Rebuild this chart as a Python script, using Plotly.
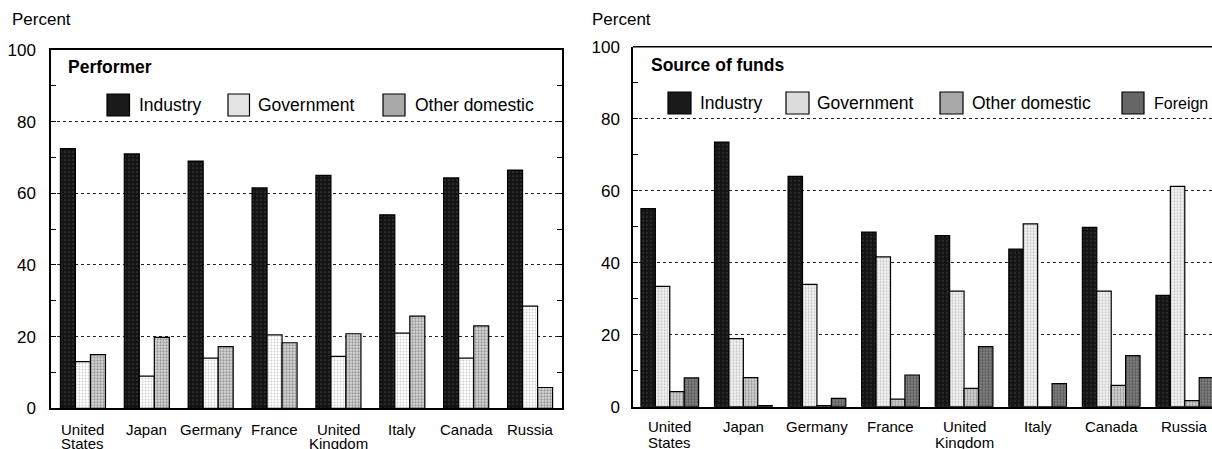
import plotly.graph_objects as go

# ---------------- data ----------------
countries = ["United States", "Japan", "Germany", "France", "United Kingdom", "Italy", "Canada", "Russia"]
tick_line1 = ["United", "Japan", "Germany", "France", "United", "Italy", "Canada", "Russia"]
tick_line2 = ["States", "", "", "", "Kingdom", "", "", ""]

perf_industry = [72.5, 71.0, 69.0, 61.5, 65.0, 54.0, 64.3, 66.5]
perf_government = [13.0, 9.0, 14.0, 20.5, 14.5, 21.0, 14.0, 28.5]
perf_other = [15.0, 19.8, 17.2, 18.3, 20.8, 25.7, 23.0, 5.8]

fund_industry = [55.0, 73.5, 64.0, 48.5, 47.5, 43.8, 49.8, 30.9]
fund_government = [33.4, 18.9, 34.0, 41.6, 32.1, 50.8, 32.1, 61.2]
fund_other = [4.2, 8.1, 0.3, 2.1, 5.1, 0.0, 5.9, 1.7]
fund_foreign = [8.0, 0.3, 2.3, 8.8, 16.7, 6.4, 14.2, 8.1]

y_ticks = [0, 20, 40, 60, 80, 100]

# ---------------- styling ----------------
W, H = 1212, 449
OFF = 0  # body margin removed by the post script below
FONT = "Liberation Sans, Arial, sans-serif"

def px(x):
    return (x - OFF) / W

def py(y):
    return 1 - (y - OFF) / H

styles = {
    "Industry": dict(bg="#141414", fg="#6e6e6e", size=4, sol=0.15, solid="#1a1a1a"),
    "Government": dict(bg="#ffffff", fg="#9a9a9a", size=3, sol=0.3, solid="#e4e4e4"),
    "Other domestic": dict(bg="#d8d8d8", fg="#555555", size=3, sol=0.45, solid="#a9a9a9"),
    "Foreign": dict(bg="#8a8a8a", fg="#222222", size=3, sol=0.5, solid="#666666"),
}
styles_right_gov = dict(bg="#f4f4f4", fg="#8a8a8a", size=3, sol=0.35, solid="#dcdcdc")

def marker_for(st):
    return dict(
        color=st["bg"],
        pattern=dict(shape=".", bgcolor=st["bg"], fgcolor=st["fg"], size=st["size"], solidity=st["sol"]),
        line=dict(color="black", width=1.2),
    )

x_idx = list(range(len(countries)))

fig = go.Figure()

# left panel: performer
wl = 0.235
left_series = [("Industry", perf_industry), ("Government", perf_government), ("Other domestic", perf_other)]
for i, (name, vals) in enumerate(left_series):
    fig.add_trace(go.Bar(
        x=x_idx, y=vals, name=name, width=wl, offset=(i - 1.5) * wl,
        marker=marker_for(styles[name]), xaxis="x", yaxis="y", showlegend=False,
        hovertext=countries,
    ))

# right panel: source of funds
wr = 0.196
right_series = [("Industry", fund_industry), ("Government", fund_government),
                ("Other domestic", fund_other), ("Foreign", fund_foreign)]
for i, (name, vals) in enumerate(right_series):
    st = styles_right_gov if name == "Government" else styles[name]
    fig.add_trace(go.Bar(
        x=x_idx, y=vals, name=name, width=wr, offset=(i - 2) * wr,
        marker=marker_for(st), xaxis="x2", yaxis="y2", showlegend=False,
        hovertext=countries,
    ))

def y_axis(standoff):
    return dict(
        range=[0, 100], tickvals=y_ticks, showgrid=True, gridcolor="#222222", griddash="dot",
        gridwidth=1, zeroline=False, showline=True, linecolor="black", linewidth=1.5,
        ticks="inside", ticklen=5, tickcolor="black", automargin=False,
        minor=dict(dtick=10, ticks="inside", ticklen=5, tickcolor="black", showgrid=False),
        tickfont=dict(family=FONT, size=17, color="black"), ticklabelstandoff=standoff,
    )

axis_common_x = dict(
    tickvals=x_idx, showticklabels=False, showgrid=False, zeroline=False, showline=True,
    linecolor="black", linewidth=1.5, ticks="", automargin=False,
)

fig.update_layout(
    width=W, height=H, margin=dict(l=0, r=0, t=0, b=0, autoexpand=False),
    paper_bgcolor="white", plot_bgcolor="white", barmode="overlay",
    font=dict(family=FONT, color="black"), showlegend=False,
    xaxis=dict(domain=[px(51), px(562)], range=[-0.5, 7.5], anchor="y", mirror=True, **axis_common_x),
    yaxis=dict(domain=[py(408.3), py(50)], anchor="x", mirror="ticks", **y_axis(10)),
    xaxis2=dict(domain=[px(633), 1.0], range=[-0.5, 7.37], anchor="y2", mirror=False, **axis_common_x),
    yaxis2=dict(domain=[py(406.7), py(46.7)], anchor="x2", mirror=False, **y_axis(8)),
)

shapes = []
annotations = []

# top border of right panel (right edge is cut off by the page)
shapes.append(dict(type="line", xref="x2 domain", yref="y2 domain", x0=0, x1=1, y0=1, y1=1,
                   line=dict(color="black", width=1.5)))

# category labels (two lines), placed on the category axes
for xa, y1, y2 in (("x", 429, 443), ("x2", 426, 442)):
    for i, (t1, t2) in enumerate(zip(tick_line1, tick_line2)):
        annotations.append(dict(x=i, xref=xa, y=py(y1), yref="paper", text=t1, showarrow=False,
                                font=dict(family=FONT, size=15, color="black"),
                                xanchor="center", yanchor="middle"))
        if t2:
            annotations.append(dict(x=i, xref=xa, y=py(y2), yref="paper", text=t2, showarrow=False,
                                    font=dict(family=FONT, size=15, color="black"),
                                    xanchor="center", yanchor="middle"))

# "Percent" labels and panel titles
annotations.append(dict(x=px(10), y=py(20), xref="paper", yref="paper", text="Percent", showarrow=False,
                        xanchor="left", yanchor="middle", font=dict(family=FONT, size=17)))
annotations.append(dict(x=px(590), y=py(19), xref="paper", yref="paper", text="Percent", showarrow=False,
                        xanchor="left", yanchor="middle", font=dict(family=FONT, size=17)))
annotations.append(dict(x=px(66), y=py(66.5), xref="paper", yref="paper", text="<b>Performer</b>",
                        showarrow=False, xanchor="left", yanchor="middle", font=dict(family=FONT, size=17.5)))
annotations.append(dict(x=px(649), y=py(65), xref="paper", yref="paper", text="<b>Source of funds</b>",
                        showarrow=False, xanchor="left", yanchor="middle", font=dict(family=FONT, size=17.5)))

# legends (drawn as shapes + text)
left_legend = [("Industry", 107, 129.5, 137, 17.5), ("Government", 228, 249.5, 256, 17.5),
               ("Other domestic", 383, 405, 412.5, 17.5)]
right_legend = [("Industry", 668, 691, 698, 17.5), ("Government", 786, 809, 815, 17.5),
                ("Other domestic", 940, 963, 970, 17.5), ("Foreign", 1122, 1144, 1151.5, 16)]
for items, yc, right in ((left_legend, 105, False), (right_legend, 103, True)):
    for name, x0, x1, xt, fs in items:
        st = styles_right_gov if (right and name == "Government") else styles[name]
        shapes.append(dict(type="rect", xref="paper", yref="paper", x0=px(x0), x1=px(x1),
                           y0=py(yc + 11), y1=py(yc - 11), fillcolor=st["solid"],
                           line=dict(color="black", width=1.2)))
        annotations.append(dict(x=px(xt), y=py(yc), xref="paper", yref="paper", text=name, showarrow=False,
                                xanchor="left", yanchor="middle", font=dict(family=FONT, size=fs)))

fig.update_layout(shapes=shapes, annotations=annotations)

page_fix = ("document.body.style.margin='0';"
            "document.body.style.overflow='hidden';"
            "document.documentElement.style.overflow='hidden';")
fig.write_html("out.html", post_script=page_fix, config={"displayModeBar": False})
